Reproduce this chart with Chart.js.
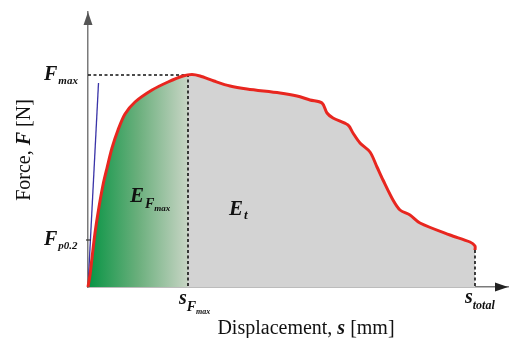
<!DOCTYPE html>
<html>
<head>
<meta charset="utf-8">
<script src="https://cdn.jsdelivr.net/npm/chart.js@4"></script>
<style>
  html, body { margin:0; padding:0; background:#fff; }
  #wrap { width:509px; height:338px; position:relative; }
</style>
</head>
<body>
<div id="wrap"><canvas id="c"></canvas></div>
<script>
// === Curve data (arbitrary units) ===
const curveX = [0, 2, 4, 7, 11, 15, 19, 24, 30, 37, 47, 64, 80, 95, 104, 112, 126, 142, 159, 192, 209, 222, 234, 239, 245, 260, 265, 272, 282, 289, 295, 305, 312, 322, 332, 362, 382, 387, 387];
const curveY = [0, 12, 29, 54, 80, 102, 119, 139, 157, 173, 185, 197, 205, 211, 212.5, 211, 206, 201, 198, 194, 191, 187, 184, 174, 169, 162, 154, 144, 135, 120, 107, 87, 77, 72, 64, 52, 45, 41, 37];
const elasticX = [0, 10.5];
const elasticY = [0, 204];

const F_MAX = 212;    // level of the dashed Fmax line
const F_P02 = 47;     // Fp0.2 level
const S_FMAX = 100;   // displacement at Fmax
const S_TOTAL = 387;  // total displacement
const X_MAX = 420, Y_MAX = 275;

const pts = (xs, ys) => xs.map((x, i) => ({x, y: ys[i]}));
const FONT = '"Liberation Serif", "DejaVu Serif", serif';

// green gradient up to sFmax, then flat grey
function areaFill(ctx){
  const chart = ctx.chart;
  if(!chart.chartArea) return '#d3d3d3';
  const xs = chart.scales.x;
  const x0 = xs.getPixelForValue(0), x1 = xs.getPixelForValue(S_TOTAL);
  const g = chart.ctx.createLinearGradient(x0, 0, x1, 0);
  const s = S_FMAX / S_TOTAL;
  g.addColorStop(0, '#079444');
  g.addColorStop(s * 0.5, '#6aaf7c');
  g.addColorStop(s, '#c8d5c5');
  g.addColorStop(s, '#d3d3d3');
  g.addColorStop(1, '#d3d3d3');
  return g;
}

// draw text made of several styled pieces, left to right
function rich(ctx, x, y, parts){
  for(const p of parts){
    ctx.font = p.f;
    ctx.fillText(p.t, x, y + (p.dy || 0));
    x += ctx.measureText(p.t).width + (p.gap || 0);
  }
}
function richWidth(ctx, parts){
  let w = 0;
  for(const p of parts){ ctx.font = p.f; w += ctx.measureText(p.t).width + (p.gap || 0); }
  return w;
}

const bi = s => `bold italic ${s}px ${FONT}`;
const rg = s => `${s}px ${FONT}`;

const decor = {
  id: 'decor',
  afterDraw(chart){
    const {ctx, chartArea: a, scales: {x, y}} = chart;
    ctx.save();
    ctx.fillStyle = '#555';
    // arrow heads
    ctx.beginPath();
    ctx.moveTo(a.left, a.top); ctx.lineTo(a.left - 4.5, a.top + 13); ctx.lineTo(a.left + 4.5, a.top + 13);
    ctx.closePath(); ctx.fill();
    ctx.fillStyle = '#222';
    ctx.beginPath();
    ctx.moveTo(a.right, a.bottom); ctx.lineTo(a.right - 13, a.bottom - 4.5); ctx.lineTo(a.right - 13, a.bottom + 4.5);
    ctx.closePath(); ctx.fill();
    // tick at Fp0.2
    ctx.strokeStyle = '#333'; ctx.lineWidth = 1.2;
    const yp = y.getPixelForValue(F_P02);
    ctx.beginPath(); ctx.moveTo(a.left - 2, yp); ctx.lineTo(a.left + 3, yp); ctx.stroke();

    ctx.fillStyle = '#111';
    ctx.textBaseline = 'alphabetic';
    // y labels
    const yf = y.getPixelForValue(F_MAX);
    rich(ctx, 44, yf + 5, [{t:'F', f:bi(20), gap:1}, {t:'max', f:bi(11), dy:4}]);
    rich(ctx, 44, yp + 5, [{t:'F', f:bi(20), gap:1}, {t:'p0.2', f:bi(11), dy:4}]);
    // x labels
    const xs1 = x.getPixelForValue(S_FMAX);
    rich(ctx, xs1 - 9, a.bottom + 17, [{t:'s', f:bi(20)}, {t:'F', f:bi(14), dy:7}, {t:'max', f:bi(8), dy:10}]);
    const xs2 = x.getPixelForValue(S_TOTAL);
    rich(ctx, xs2 - 10, a.bottom + 16, [{t:'s', f:bi(20)}, {t:'total', f:bi(12), dy:6}]);
    // energies
    rich(ctx, 130, 202, [{t:'E', f:bi(21), gap:1}, {t:'F', f:bi(14), dy:6}, {t:'max', f:bi(9), dy:9}]);
    rich(ctx, 229, 215, [{t:'E', f:bi(21), gap:1}, {t:'t', f:bi(13), dy:4}]);
    // axis titles
    const xt = [{t:'Displacement, ', f:rg(20)}, {t:'s', f:bi(20)}, {t:' [mm]', f:rg(20)}];
    rich(ctx, 306 - richWidth(ctx, xt) / 2, 334, xt);
    const yt = [{t:'Force, ', f:rg(20)}, {t:'F', f:bi(20)}, {t:' [N]', f:rg(20)}];
    ctx.translate(30, 150); ctx.rotate(-Math.PI / 2);
    rich(ctx, -richWidth(ctx, yt) / 2, 0, yt);
    ctx.restore();
  }
};

const dash = {borderColor:'#111', borderWidth:1.6, borderDash:[3, 2.5], pointRadius:0, showLine:true, fill:false, order:2, clip:false};

new Chart(document.getElementById('c'), {
  type: 'scatter',
  data: {
    datasets: [
      {data: pts(curveX, curveY), showLine:true, tension:0.3, borderWidth:0, pointRadius:0, fill:'origin', backgroundColor:areaFill, order:3},
      {...dash, data: [{x:0, y:F_MAX}, {x:S_FMAX, y:F_MAX}, {x:S_FMAX, y:0}]},
      {...dash, data: [{x:S_TOTAL, y:curveY[curveY.length - 1]}, {x:S_TOTAL, y:0}]},
      {data: pts(elasticX, elasticY), showLine:true, borderColor:'#3a34a8', borderWidth:1.3, pointRadius:0, order:1},
      {data: pts(curveX, curveY), showLine:true, tension:0.3, borderColor:'#e8261f', borderWidth:3, pointRadius:0, fill:false, order:0, clip:false}
    ]
  },
  options: {
    responsive:true, maintainAspectRatio:false, animation:false,
    layout:{padding:{top:12, right:1, left:0, bottom:0}},
    plugins:{legend:{display:false}, tooltip:{enabled:false}},
    scales:{
      x:{type:'linear', min:0, max:X_MAX, ticks:{display:false}, grid:{display:false, drawTicks:false},
         border:{color:'#7a7a7a', width:1.5}, afterFit(s){ s.height = 51; }},
      y:{type:'linear', min:0, max:Y_MAX, ticks:{display:false}, grid:{display:false, drawTicks:false},
         border:{color:'#7a7a7a', width:1.5}, afterFit(s){ s.width = 88; }}
    }
  },
  plugins:[decor]
});
</script>
</body>
</html>
